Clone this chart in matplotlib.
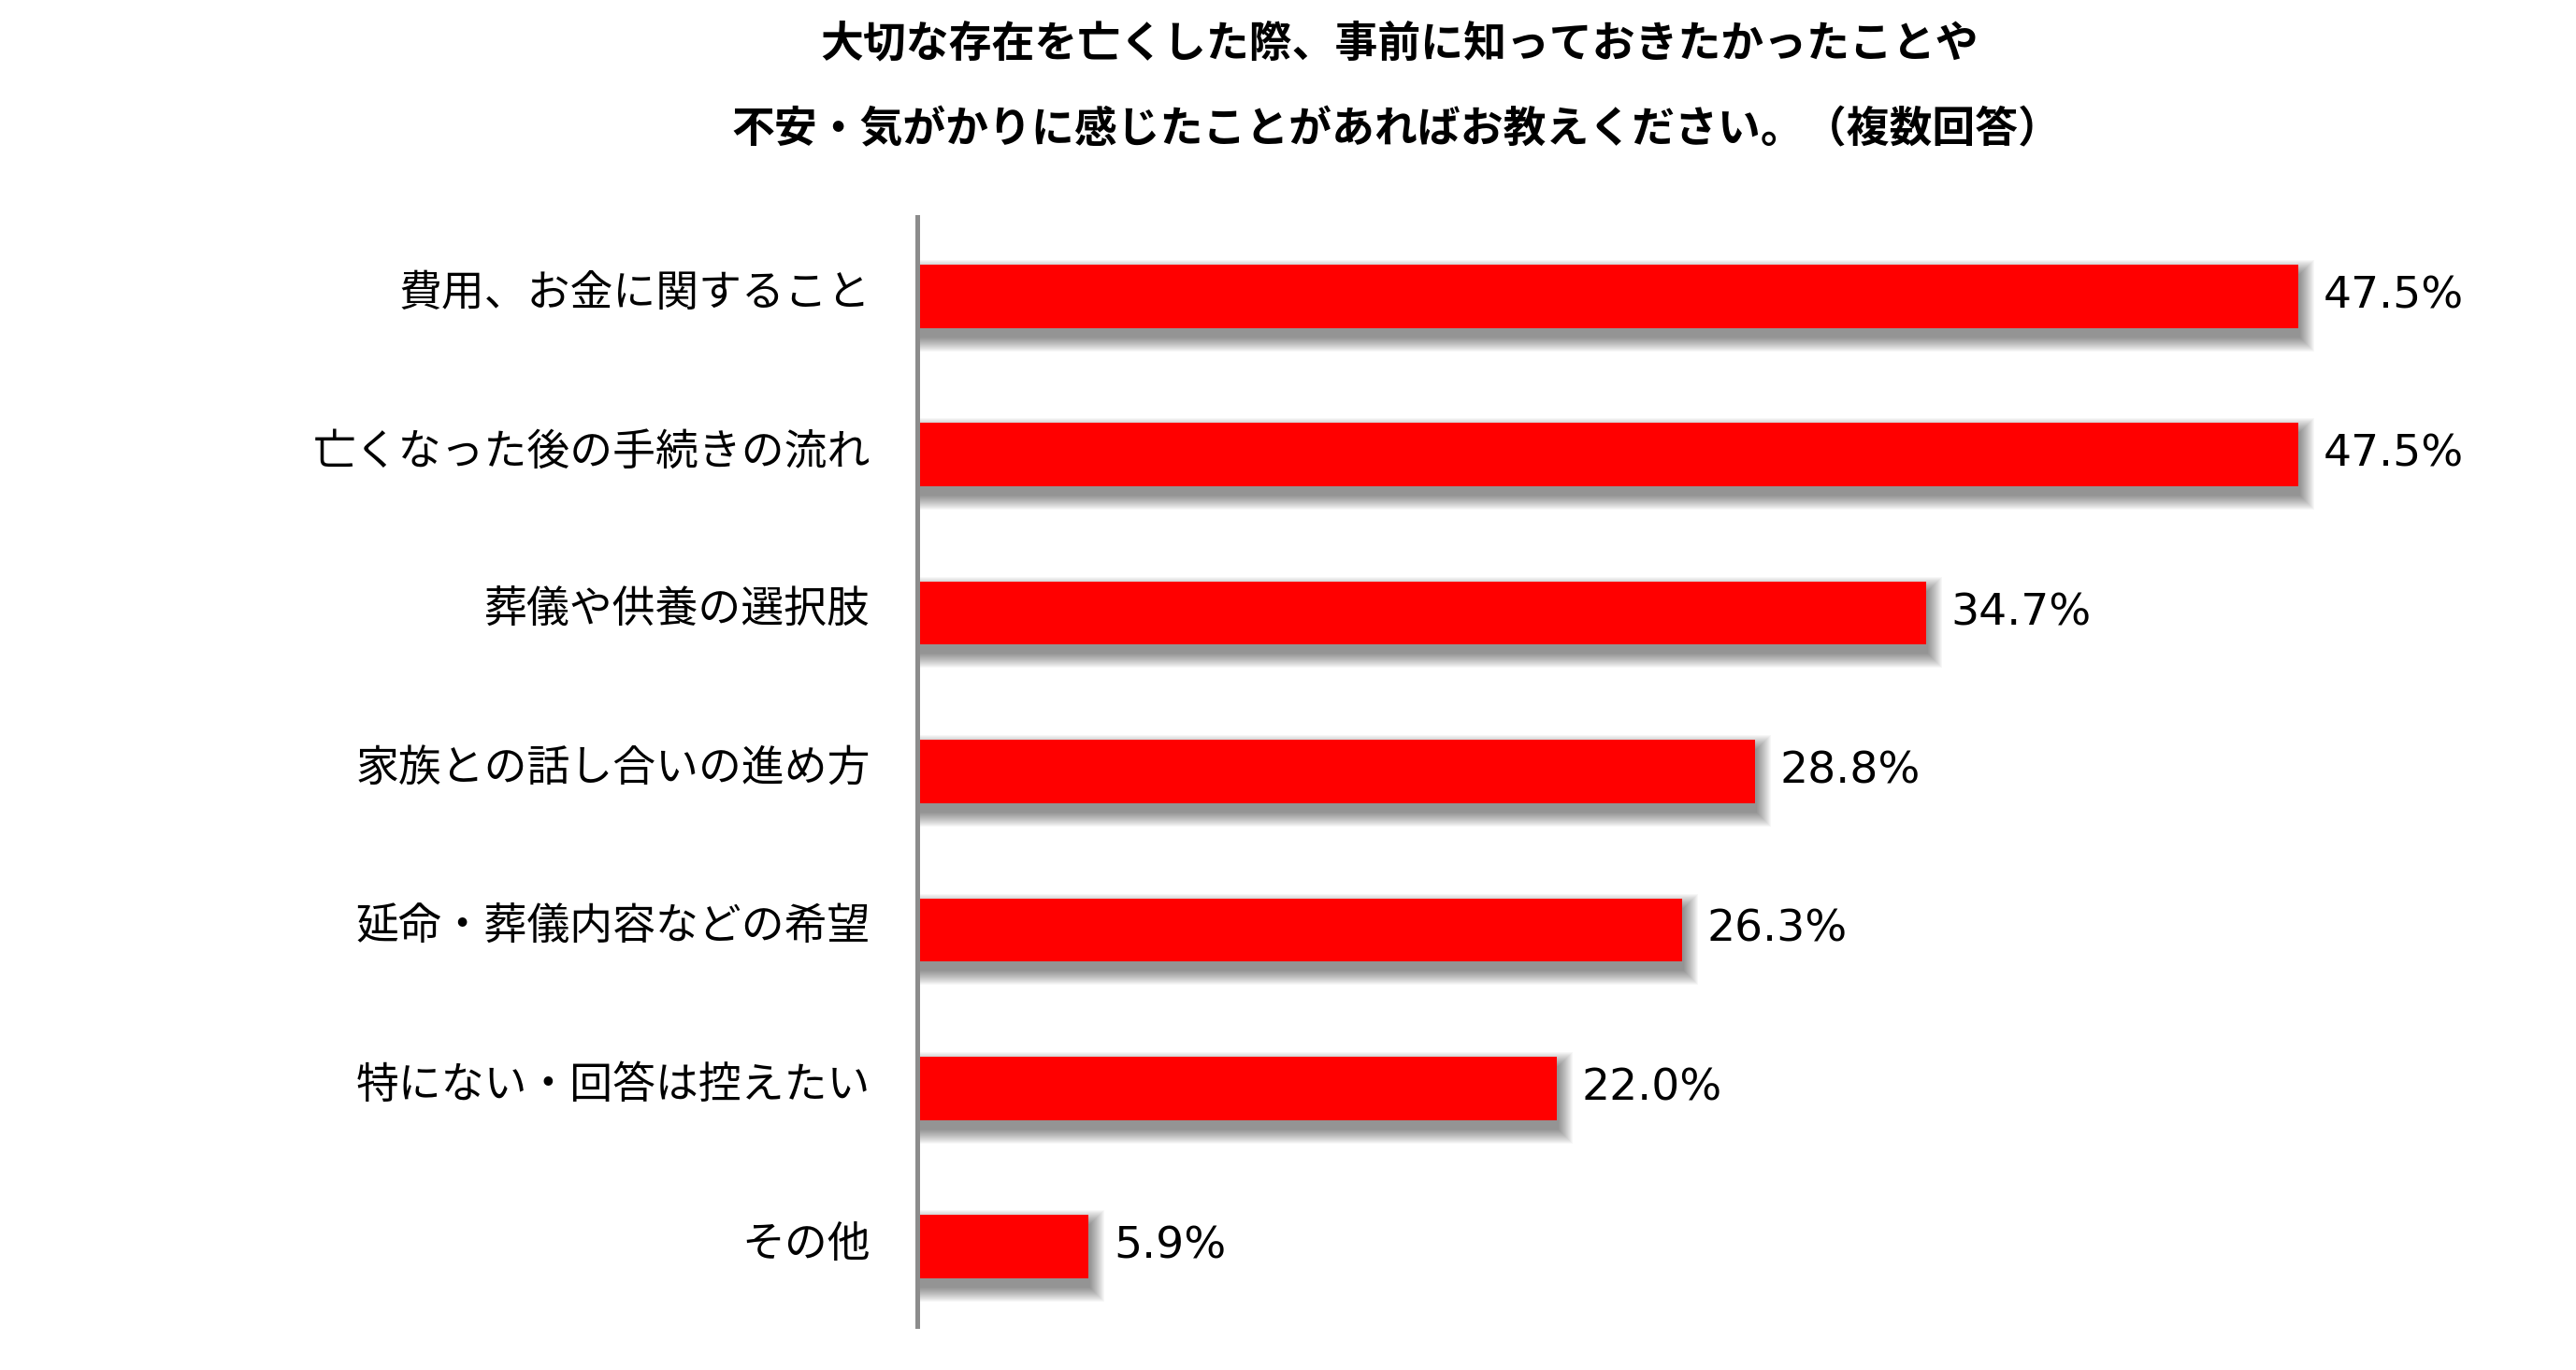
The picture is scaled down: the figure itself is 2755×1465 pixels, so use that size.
import numpy as np
import matplotlib
matplotlib.use("Agg")
import matplotlib.pyplot as plt
import matplotlib.transforms as mtransforms

categories = [
    "費用、お金に関すること",
    "亡くなった後の手続きの流れ",
    "葬儀や供養の選択肢",
    "家族との話し合いの進め方",
    "延命・葬儀内容などの希望",
    "特にない・回答は控えたい",
    "その他",
]
values = [47.5, 47.5, 34.7, 28.8, 26.3, 22.0, 5.9]
title_lines = [
    "大切な存在を亡くした際、事前に知っておきたかったことや",
    "不安・気がかりに感じたことがあればお教えください。（複数回答）",
]

plt.rcParams["font.family"] = ["Noto Sans CJK JP", "DejaVu Sans"]

W, H = 2755, 1465
fig = plt.figure(figsize=(W / 100, H / 100), dpi=100)
fig.patch.set_facecolor("white")

left_px, right_px = 981, W
top_px, bot_px = 232, 1418
ax = fig.add_axes([left_px / W, (H - bot_px) / H,
                   (right_px - left_px) / W, (bot_px - top_px) / H])

px_per_unit = 31.1
ax.set_xlim(0, (right_px - left_px) / px_per_unit)
ax.set_ylim(len(categories) - 0.5, -0.5)

y = np.arange(len(categories))
bar_h = 0.40
vals = np.array(values)

# soft drop shadow (mostly below / right of each bar)
ux = 1 / px_per_unit
uy = 1 / 169.3
n_layers = 16
for g in range(n_layers):
    ax.barh(y + 10 * uy, vals + (2 + g) * ux,
            height=bar_h + 2 * g * uy, left=0,
            color="black", alpha=0.03, linewidth=0, zorder=1)

ax.barh(y, vals, height=bar_h, color="#ff0000", linewidth=0, zorder=3)

for yi, v in zip(y, values):
    ax.annotate(f"{v:.1f}%", xy=(v, yi), xytext=(19, 0),
                textcoords="offset points", va="center", ha="left",
                fontsize=34, family="DejaVu Sans", color="black", zorder=4)

ax.set_yticks(y)
ax.set_yticklabels(categories, fontsize=33)
ax.tick_params(axis="y", length=0, pad=36)
ax.set_xticks([])
for s in ["top", "right", "bottom"]:
    ax.spines[s].set_visible(False)
ax.spines["left"].set_color("#8c8c8c")
ax.spines["left"].set_linewidth(3.6)
ax.spines["left"].set_zorder(5)

# category labels sit a little above the bar centre
offset = mtransforms.ScaledTranslation(0, 6 / 72, fig.dpi_scale_trans)
for lbl in ax.get_yticklabels():
    lbl.set_transform(lbl.get_transform() + offset)

fig.text(1497 / W, 1 - 47 / H, title_lines[0], ha="center", va="center",
         fontsize=33, fontweight="bold")
fig.text(1493 / W, 1 - 139 / H, title_lines[1], ha="center", va="center",
         fontsize=33, fontweight="bold")

fig.savefig("out.png", dpi=100, facecolor="white")
